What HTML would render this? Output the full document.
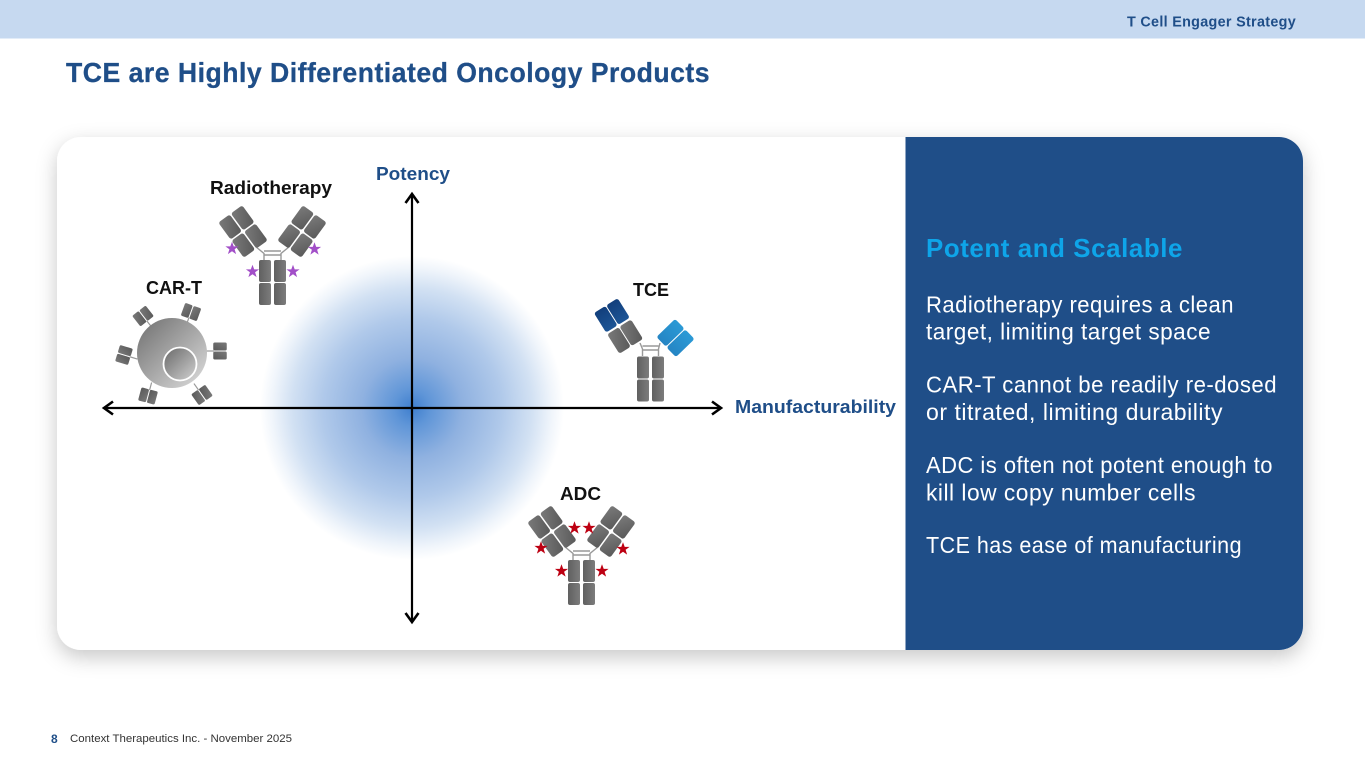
<!DOCTYPE html>
<html><head><meta charset="utf-8"><style>
html,body{margin:0;padding:0;background:#fff;width:1365px;height:768px;overflow:hidden}
svg{display:block}
text{font-family:"Liberation Sans",sans-serif}
</style></head><body>
<svg width="1365" height="768" viewBox="0 0 1365 768" xmlns="http://www.w3.org/2000/svg">
<defs>
<radialGradient id="glow" cx="0.5" cy="0.5" r="0.5">
<stop offset="0" stop-color="#3f7fce"/><stop offset="0.12" stop-color="#6096d8"/>
<stop offset="0.33" stop-color="#8fb1e0"/><stop offset="0.59" stop-color="#b0c9ea"/>
<stop offset="0.79" stop-color="#d2e1f3"/><stop offset="0.92" stop-color="#f0f5fb"/><stop offset="1" stop-color="#fff"/>
</radialGradient>
<linearGradient id="g" x1="0" y1="0" x2="1" y2="1"><stop offset="0" stop-color="#7a7a7a"/><stop offset="1" stop-color="#595959"/></linearGradient>
<linearGradient id="gt" x1="0" y1="0" x2="1" y2="0"><stop offset="0" stop-color="#606060"/><stop offset="1" stop-color="#7c7c7c"/></linearGradient>
<linearGradient id="db" x1="0" y1="0" x2="0" y2="1"><stop offset="0" stop-color="#123f7c"/><stop offset="1" stop-color="#1d5596"/></linearGradient>
<linearGradient id="lb" x1="0" y1="0" x2="0" y2="1"><stop offset="0" stop-color="#2b9ad6"/><stop offset="1" stop-color="#2585c4"/></linearGradient>
<linearGradient id="cell" x1="0" y1="0" x2="1" y2="1"><stop offset="0" stop-color="#6e6e6e"/><stop offset="1" stop-color="#dedede"/></linearGradient>
<linearGradient id="nuc" x1="0" y1="0" x2="1" y2="1"><stop offset="0" stop-color="#686868"/><stop offset="1" stop-color="#d2d2d2"/></linearGradient>
<filter id="sh" x="-5%" y="-10%" width="110%" height="125%"><feDropShadow dx="0" dy="7" stdDeviation="10" flood-color="#000" flood-opacity="0.22"/></filter>
<g id="r"><rect x="-7" y="-10.500" width="14" height="21" rx="2.500" fill="url(#g)"/></g>
<g id="hinge">
<path d="M-17 -36 L-8.500 -29 V-22 M17 -36 L8.500 -29 V-22 M-8.500 -31.500 H8.500 M-8.500 -27.500 H8.500" fill="none" stroke="#999" stroke-width="1.400"/>
</g>
<g id="trunk">
<rect x="-13.500" y="-22.500" width="12" height="22" rx="2" fill="url(#gt)"/><rect x="1.500" y="-22.500" width="12" height="22" rx="2" fill="url(#gt)"/>
<rect x="-13.500" y="0.500" width="12" height="22" rx="2" fill="url(#gt)"/><rect x="1.500" y="0.500" width="12" height="22" rx="2" fill="url(#gt)"/>
</g>
<g id="arm">
<use href="#r" x="7.750" y="-11.250"/><use href="#r" x="-7.750" y="-11.250"/><use href="#r" x="7.750" y="11.250"/><use href="#r" x="-7.750" y="11.250"/>
</g>
<g id="ab">
<use href="#hinge"/><use href="#trunk"/>
<use href="#arm" transform="translate(-29.500 -51) rotate(-36)"/>
<use href="#arm" transform="translate(29.500 -51) rotate(36)"/>
</g>
<g id="mini"><path d="M0 6V14" stroke="#999" stroke-width="1.200"/><rect x="-8.500" y="-6.750" width="8" height="13.500" rx="1.500" fill="url(#g)"/><rect x="0.500" y="-6.750" width="8" height="13.500" rx="1.500" fill="url(#g)"/></g>
<polygon id="star" points="0,-6.800 1.700,-2.100 6.600,-2.100 2.600,0.800 4.100,5.600 0,2.700 -4.100,5.600 -2.600,0.800 -6.600,-2.100 -1.700,-2.100"/>
</defs>

<rect width="1365" height="38.500" fill="#c6d9f0"/>
<text x="1127" y="26.500" font-size="14.500" font-weight="700" fill="#1f4e88" letter-spacing="0.3" textLength="169" lengthAdjust="spacingAndGlyphs">T Cell Engager Strategy</text>
<text x="66" y="82" font-size="28" font-weight="700" fill="#1f4e88" stroke="#1f4e88" stroke-width="0.3" letter-spacing="0.5" textLength="644" lengthAdjust="spacingAndGlyphs">TCE are Highly Differentiated Oncology Products</text>

<rect x="57" y="137" width="1246" height="513" rx="24" fill="#fff" filter="url(#sh)"/>
<path d="M905.500 137H1279a24 24 0 0 1 24 24V626a24 24 0 0 1-24 24H905.500Z" fill="#1f4e88"/>

<circle cx="412" cy="408" r="152" fill="url(#glow)"/>

<g stroke="#000" stroke-width="2.200" fill="none">
<path d="M412 194V622M104 408H721"/>
</g>
<g stroke="#000" stroke-width="2.600" fill="none">
<path d="M405.500 203L412 194L418.500 203M405.500 613L412 622L418.500 613"/>
<path d="M113 401.500L104 408L113 414.500M712 401.500L721 408L712 414.500"/>
</g>

<text x="376" y="180" font-size="18" font-weight="700" fill="#1f4e88" textLength="74" lengthAdjust="spacingAndGlyphs">Potency</text>
<text x="735" y="413" font-size="18" font-weight="700" fill="#1f4e88" textLength="161" lengthAdjust="spacingAndGlyphs">Manufacturability</text>
<text x="210" y="194" font-size="18" font-weight="700" fill="#111" textLength="122" lengthAdjust="spacingAndGlyphs">Radiotherapy</text>
<text x="146" y="294" font-size="18" font-weight="700" fill="#111" textLength="56" lengthAdjust="spacingAndGlyphs">CAR-T</text>
<text x="633" y="296" font-size="18" font-weight="700" fill="#111" textLength="36" lengthAdjust="spacingAndGlyphs">TCE</text>
<text x="560" y="500" font-size="18" font-weight="700" fill="#111" textLength="41" lengthAdjust="spacingAndGlyphs">ADC</text>

<!-- Radiotherapy -->
<use href="#ab" x="272.500" y="282.500"/>
<g fill="#a24fc8">
<use href="#star" x="232" y="248.500"/><use href="#star" x="314.500" y="249"/><use href="#star" x="252.500" y="271.500"/><use href="#star" x="293" y="271.500"/>
</g>

<!-- ADC -->
<use href="#ab" x="581.500" y="582.500"/>
<g fill="#bd0012">
<use href="#star" x="541" y="548"/><use href="#star" x="623" y="549"/><use href="#star" x="574.500" y="528"/><use href="#star" x="589" y="528"/><use href="#star" x="561.500" y="571"/><use href="#star" x="602" y="571"/>
</g>

<!-- TCE -->
<g transform="translate(650.500 379)">
<use href="#trunk"/>
<path d="M-10.500 -36 L-8 -30 V-23 M9.500 -36 L8 -30 V-23 M-8 -33 H8 M-8 -29 H8" fill="none" stroke="#999" stroke-width="1.400"/>
</g>
<g transform="translate(618.500 326) rotate(-32)">
<rect x="-14" y="-24" width="13.500" height="23" rx="2.500" fill="url(#db)"/><rect x="0.500" y="-24" width="13.500" height="23" rx="2.500" fill="url(#db)"/>
<rect x="-14" y="1" width="13.500" height="23" rx="2.500" fill="url(#g)"/><rect x="0.500" y="1" width="13.500" height="23" rx="2.500" fill="url(#g)"/>
</g>
<g transform="translate(675.500 338) rotate(46)">
<rect x="-14" y="-13" width="13.500" height="26" rx="2.500" fill="url(#lb)"/><rect x="0.500" y="-13" width="13.500" height="26" rx="2.500" fill="url(#lb)"/>
</g>

<!-- CAR-T -->
<g>
<use href="#mini" transform="translate(143 316) rotate(-38)"/>
<use href="#mini" transform="translate(191 312) rotate(20)"/>
<use href="#mini" transform="translate(220 351) rotate(90)"/>
<use href="#mini" transform="translate(124 355) rotate(-73)"/>
<use href="#mini" transform="translate(148 396) rotate(195)"/>
<use href="#mini" transform="translate(202 395) rotate(145)"/>
<circle cx="172" cy="353" r="35" fill="url(#cell)"/>
<circle cx="180" cy="364" r="16.500" fill="url(#nuc)" stroke="#fff" stroke-width="1.800"/>
</g>

<!-- Panel text -->
<text x="926" y="257" font-size="26" font-weight="700" fill="#0ea5e9" letter-spacing="0.6" textLength="257" lengthAdjust="spacingAndGlyphs">Potent and Scalable</text>
<g font-size="23" fill="#fff" letter-spacing="0.5">
<text x="926" y="312.500" textLength="308" lengthAdjust="spacingAndGlyphs">Radiotherapy requires a clean</text>
<text x="926" y="339.500" textLength="285" lengthAdjust="spacingAndGlyphs">target, limiting target space</text>
<text x="926" y="392.500" textLength="351" lengthAdjust="spacingAndGlyphs">CAR-T cannot be readily re-dosed</text>
<text x="926" y="420" textLength="297" lengthAdjust="spacingAndGlyphs">or titrated, limiting durability</text>
<text x="926" y="473" textLength="347" lengthAdjust="spacingAndGlyphs">ADC is often not potent enough to</text>
<text x="926" y="500.500" textLength="270" lengthAdjust="spacingAndGlyphs">kill low copy number cells</text>
<text x="926" y="553" textLength="316" lengthAdjust="spacingAndGlyphs">TCE has ease of manufacturing</text>
</g>

<!-- Footer -->
<text x="51" y="743" font-size="12" font-weight="700" fill="#1f4e88">8</text>
<text x="70" y="742" font-size="11" fill="#333" textLength="222" lengthAdjust="spacingAndGlyphs">Context Therapeutics Inc. - November 2025</text>
</svg>
</body></html>
